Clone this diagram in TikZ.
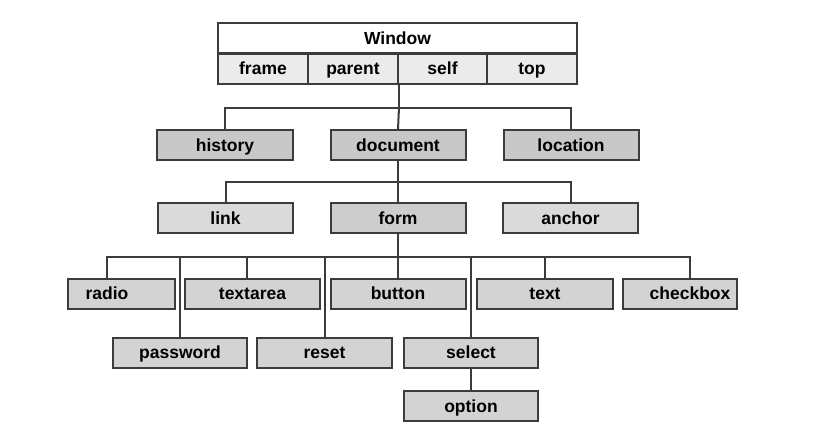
\documentclass[tikz,border=0pt]{standalone}
\usepackage{fontspec}
\setmainfont{Liberation Sans}
\usetikzlibrary{positioning,calc}

\definecolor{boxline}{HTML}{3C3C3C}
\definecolor{cellfill}{HTML}{EBEBEB}
\definecolor{topfill}{HTML}{C8C8C8}
\definecolor{midfill}{HTML}{DADADA}
\definecolor{formfill}{HTML}{CDCDCD}
\definecolor{leaffill}{HTML}{D3D3D3}

\begin{document}
\begin{tikzpicture}[x=1pt,y=-1pt,
    lbl/.style={font=\fontsize{17.5}{20}\selectfont\bfseries,text height=14pt,text depth=1.5pt,inner sep=0pt},
    obj/.style={lbl,draw=boxline,line width=2pt,minimum height=30pt},
    cell/.style={obj,fill=cellfill,minimum width=90pt},
    wire/.style={draw=boxline,line width=2pt}]
  \useasboundingbox (0,0) rectangle (821,437);

  % window object and its properties
  \node [obj,fill=white,minimum width=359pt] (win) at (397.5,38) {Window};
  \node [cell] (frame)  at (263,68.5)  {frame};
  \node [cell] (parent) at (353,68.5)  {parent};
  \node [cell] (self)   at (442.5,68.5) {self};
  \node [cell] (top)    at (532,68.5)  {top};

  \node [obj,fill=topfill,minimum width=136pt] (history)  at (225,145) {history};
  \node [obj,fill=topfill,minimum width=135pt] (document) at (398,145) {document};
  \node [obj,fill=topfill,minimum width=135pt] (location) at (571,145) {location};

  \node [obj,fill=midfill,minimum width=135pt]  (link)   at (225.5,218) {link};
  \node [obj,fill=formfill,minimum width=135pt] (form)   at (398,218)   {form};
  \node [obj,fill=midfill,minimum width=135pt]  (anchor) at (570.5,218) {anchor};

  \node [obj,fill=leaffill,minimum width=107pt,
    label={[lbl,name=radiotxt,xshift=-14.5pt]center:radio}] (radio) at (121.5,293.5) {};
  \node [obj,fill=leaffill,minimum width=135pt] (textarea) at (252.5,293.5) {textarea};
  \node [obj,fill=leaffill,minimum width=135pt] (button)   at (398,293.5)   {button};
  \node [obj,fill=leaffill,minimum width=136pt] (text)     at (545,293.5)   {text};
  \node [obj,fill=leaffill,minimum width=114pt,
    label={[lbl,name=checktxt,xshift=10pt]center:checkbox}] (checkbox) at (680,293.5) {};

  \node [obj,fill=leaffill,minimum width=134pt] (password) at (180,352.5)   {password};
  \node [obj,fill=leaffill,minimum width=135pt] (reset)    at (324.5,352.5) {reset};
  \node [obj,fill=leaffill,minimum width=134pt] (select)   at (471,352.5)   {select};
  \node [obj,fill=leaffill,minimum width=134pt] (option)   at (471,406)     {option};

  % connectors
  \draw [wire] (parent.south east) -- ++(0,23) coordinate (busA);
  \draw [wire] (history.north) |- (busA) -| (location.north);
  \draw [wire] (busA) -- (document.north);

  \draw [wire] (document.south) -- ++(0,21) coordinate (busB);
  \draw [wire] (link.north) |- (busB) -| (anchor.north);
  \draw [wire] (busB) -- (form.north);

  \draw [wire] (form.south) -- (button.north);
  \coordinate (busC) at ($(form.south)+(0,23)$);
  \draw [wire] (radiotxt |- radio.north) |- (busC) -| (checktxt |- checkbox.north);
  \draw [wire] (password.north) -- (password.north |- busC);
  \draw [wire] (reset.north) -- (reset.north |- busC);
  \draw [wire] (select.north) -- (select.north |- busC);
  \draw [wire] ($(textarea.north)+(-5.5,0)$) -- ($(textarea.north |- busC)+(-5.5,0)$);
  \draw [wire] (text.north) -- (text.north |- busC);

  \draw [wire] (select) -- (option);
\end{tikzpicture}
\end{document}
